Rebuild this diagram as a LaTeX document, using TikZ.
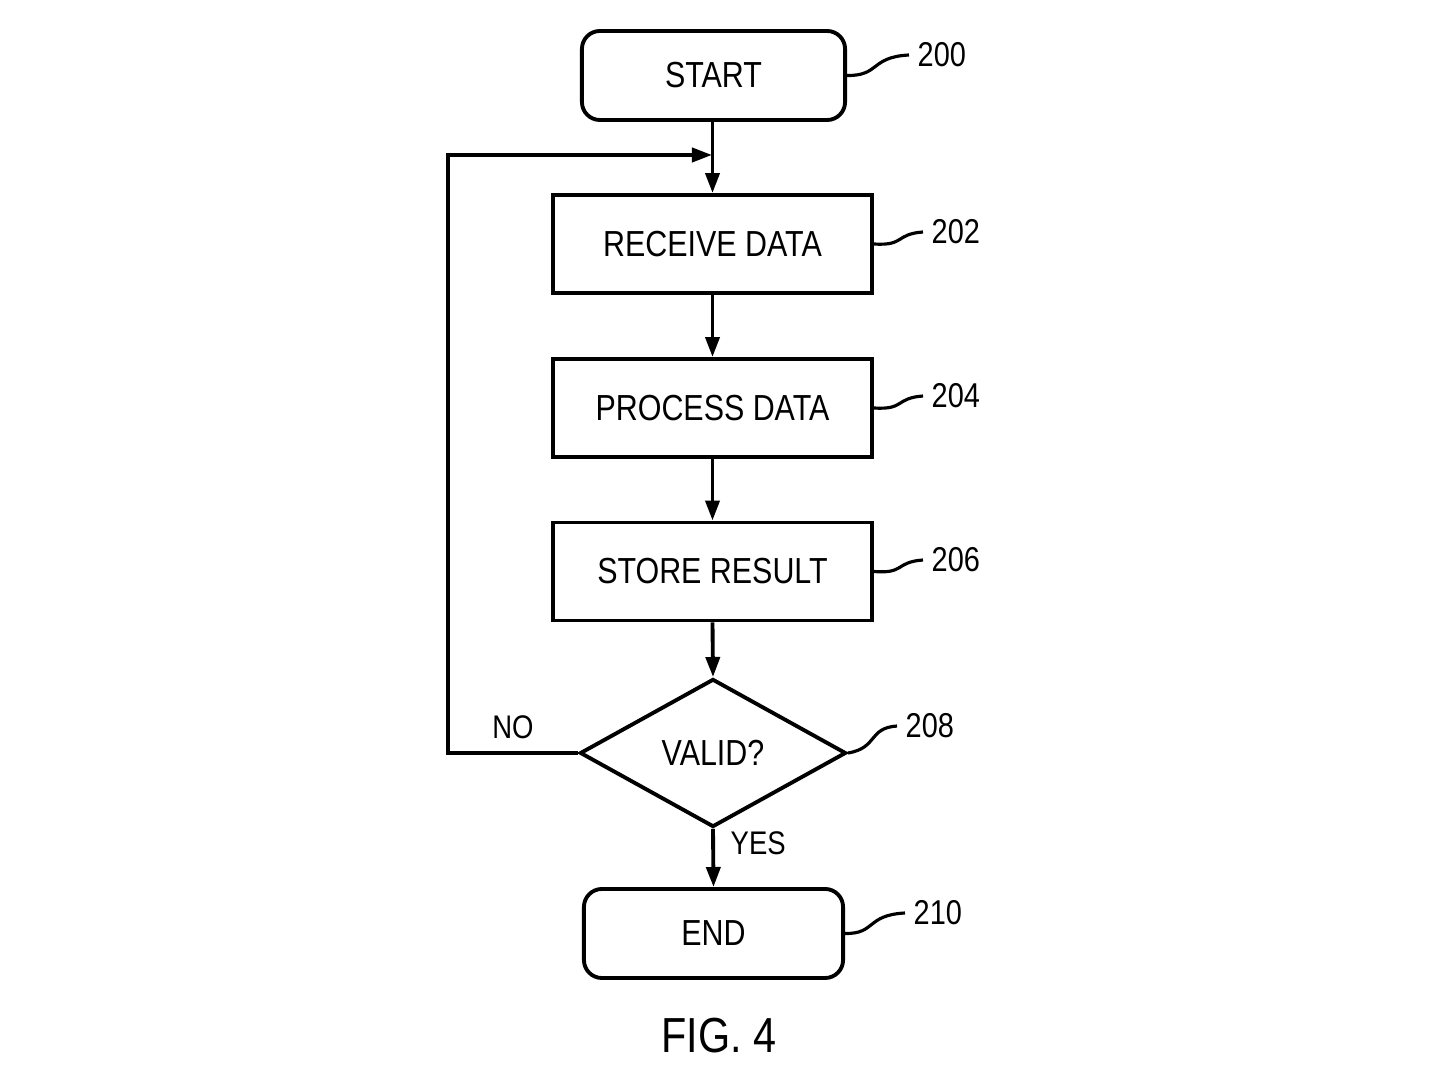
\documentclass[tikz,border=0pt]{standalone}
\usepackage{fontspec}
\setmainfont{Liberation Sans}[FakeStretch=0.84]
\usetikzlibrary{shapes.geometric,arrows.meta}
\begin{document}
\begin{tikzpicture}[x=0.01cm,y=-0.01cm,
  box/.style={draw,line width=1.1pt,minimum width=3.19cm,minimum height=0.98cm,font=\fontsize{10.3}{12}\selectfont,inner sep=0pt},
  term/.style={box,rounded corners=0.18cm,minimum height=0.89cm},
  dia/.style={draw,diamond,line width=1.1pt,aspect=1.8,minimum width=2.66cm,minimum height=1.48cm,inner sep=0pt,font=\fontsize{10.3}{12}\selectfont},
  refl/.style={font=\fontsize{9.8}{12}\selectfont,anchor=west,inner sep=0pt},
  lbl/.style={font=\fontsize{9.3}{11}\selectfont,inner sep=0pt},
  arr/.style={line width=1.1pt,-{Triangle[length=0.2cm,width=0.14cm]}},
  lead/.style={line width=0.9pt}]
\useasboundingbox (0,0) rectangle (1448,1086);
\node[term,minimum width=2.63cm] (s) at (713.5,75.5) {START};
\node[box] (r) at (712.5,244) {RECEIVE DATA};
\node[box] (p) at (712.5,408) {PROCESS DATA};
\node[box] (st) at (712.5,571.5) {STORE RESULT};
\node[dia] (v) at (713,753) {VALID?};
\node[term,minimum width=2.59cm] (e) at (713.5,933.5) {END};
\coordinate (j) at (712,155);
\coordinate (l2) at (448,155);
\draw[arr] (s.south -| r.north) -- (r.north);
\draw[arr] (r) -- (p);
\draw[arr] (p) -- (st);
\draw[arr] (st.south) -- (v.north);
\draw[arr] (v.south) -- (e.north);
\draw[arr] (v.west) -- (v.west -| l2) -- (l2) -- (j);
\node[lbl] (no) at (513,727) {NO};
\node[lbl,anchor=west] (yes) at (730,843) {YES};
\node[refl] (n200) at (917,55) {200};
\node[refl] (n202) at (931,232) {202};
\node[refl] (n204) at (931,396) {204};
\node[refl] (n206) at (931,560) {206};
\node[refl] (n208) at (905,726) {208};
\node[refl] (n210) at (913,913) {210};
\draw[lead] (s.east) .. controls (880,76) and (870,57) .. ([xshift=-0.08cm]n200.west);
\draw[lead] (r.east) .. controls (905,246) and (895,234) .. ([xshift=-0.08cm]n202.west);
\draw[lead] (p.east) .. controls (905,410) and (895,398) .. ([xshift=-0.08cm]n204.west);
\draw[lead] (st.east) .. controls (905,574) and (895,562) .. ([xshift=-0.08cm]n206.west);
\draw[lead] (v.east) .. controls (878,748) and (868,728) .. ([xshift=-0.08cm]n208.west);
\draw[lead] (e.east) .. controls (876,934) and (866,915) .. ([xshift=-0.08cm]n210.west);
\node[font=\fontsize{14}{16}\selectfont] (fig) at (719,1036) {FIG. 4};
\end{tikzpicture}
\end{document}
